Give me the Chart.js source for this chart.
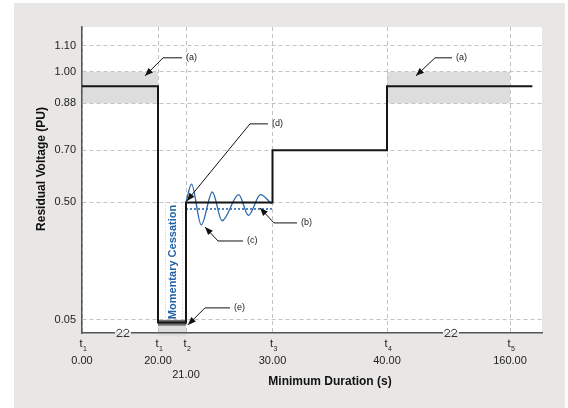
<!DOCTYPE html>
<html>
<head>
<meta charset="utf-8">
<script src="https://cdn.jsdelivr.net/npm/chart.js@4.4.1/dist/chart.umd.min.js"></script>
<style>
  html, body { margin: 0; padding: 0; background: #fff; }
  #wrap { width: 568px; height: 408px; }
</style>
</head>
<body>
<div id="wrap"><canvas id="myChart" width="568" height="408"></canvas></div>
<script>
// x ticks (minimum duration, s)
const tickTimes = [0, 20, 21, 30, 40, 160];
const tickNames = ['1', '1', '2', '3', '4', '5'];
const tickLabels = ['0.00', '20.00', '21.00', '30.00', '40.00', '160.00'];
// y ticks (residual voltage, PU)
const voltTicks = [0.05, 0.50, 0.70, 0.88, 1.00, 1.10];

// ride-through profile
const profileTimes = [0, 20, 20, 21, 21, 30, 30, 40, 40, 181];
const profileVolts = [0.945, 0.945, 0.04, 0.04, 0.50, 0.50, 0.70, 0.70, 0.945, 0.945];

// oscillation after recovery (peaks / troughs)
const oscTimes = [21.0, 21.57, 22.59, 23.74, 24.75, 26.48, 27.5, 28.75, 29.9];
const oscVolts = [0.50, 0.57, 0.414, 0.54, 0.43, 0.53, 0.45, 0.53, 0.495];

// dotted level
const refTimes = [21, 30];
const refVolts = [0.475, 0.475];

// shaded bands
const bandTimes = [[0, 20], [40, 160], [20, 21]];
const bandVolts = [[0.88, 1.00], [0.88, 1.00], [-0.012, 0.05]];

// broken time axis: every segment has its own stretch
const axisBreakTimes = [0, 20, 21, 30, 40, 160, 190];
const axisBreakUnits = [0, 76, 104, 190.5, 305, 428, 460];
const breakMarks = [10.8, 102.4];

function axisPos(t) {
    for (let i = 1; i < axisBreakTimes.length; i++) {
        if (t <= axisBreakTimes[i] || i === axisBreakTimes.length - 1) {
            const t0 = axisBreakTimes[i - 1], t1 = axisBreakTimes[i];
            const u0 = axisBreakUnits[i - 1], u1 = axisBreakUnits[i];
            return u0 + (t - t0) / (t1 - t0) * (u1 - u0);
        }
    }
}

function toPoints(ts, vs) {
    return ts.map((t, i) => ({ x: axisPos(t), y: vs[i] }));
}

// callouts: tip in data units, leader line in px
const notes = [
    { text: '(a)', t: 16.6, v: 0.985, dx: 18, dy: -18, len: 19 },
    { text: '(a)', t: 68.3, v: 0.985, dx: 19, dy: -18, len: 17 },
    { text: '(d)', t: 21.1, v: 0.506, dx: 63, dy: -77, len: 18 },
    { text: '(b)', t: 28.7, v: 0.479, dx: 14, dy: 15, len: 23 },
    { text: '(c)', t: 22.98, v: 0.406, dx: 13, dy: 14, len: 25 },
    { text: '(e)', t: 21.2, v: 0.031, dx: 17, dy: -17, len: 25 }
];

const FONT = '"Liberation Sans", Arial, sans-serif';
const PANEL = '#e8e7e5';

const decorPlugin = {
    id: 'decor',
    beforeDraw(chart) {
        const ctx = chart.ctx, a = chart.chartArea;
        const xs = chart.scales.x, ys = chart.scales.y;
        ctx.save();
        ctx.fillStyle = '#fff';
        ctx.fillRect(0, 0, chart.width, chart.height);
        ctx.fillStyle = PANEL;
        ctx.fillRect(14, 3, 551, 405);
        ctx.fillStyle = '#fff';
        ctx.fillRect(a.left, a.top, a.right - a.left, a.bottom - a.top);
        // bands
        ctx.fillStyle = '#dddddd';
        bandTimes.forEach((bt, i) => {
            const x0 = xs.getPixelForValue(axisPos(bt[0]));
            const x1 = xs.getPixelForValue(axisPos(bt[1]));
            const y0 = ys.getPixelForValue(bandVolts[i][1]);
            const y1 = ys.getPixelForValue(bandVolts[i][0]);
            ctx.fillRect(x0, y0, x1 - x0, y1 - y0);
        });
        ctx.restore();
    },
    beforeDatasetsDraw(chart) {
        const ctx = chart.ctx;
        const xs = chart.scales.x, ys = chart.scales.y;
        ctx.save();
        // bottom strip of the cessation box
        const x0 = xs.getPixelForValue(axisPos(20));
        const x1 = xs.getPixelForValue(axisPos(21));
        const yTop = ys.getPixelForValue(0.05), yBot = ys.getPixelForValue(0.028);
        ctx.fillStyle = '#6e6e6e';
        ctx.fillRect(x0, yTop, x1 - x0, yBot - yTop);
        // dotted inner lines
        ctx.strokeStyle = '#c8c8c8';
        ctx.lineWidth = 1;
        ctx.setLineDash([1, 2]);
        [20.25, 20.86].forEach(t => {
            const x = Math.round(xs.getPixelForValue(axisPos(t))) + 0.5;
            ctx.beginPath();
            ctx.moveTo(x, ys.getPixelForValue(0.5));
            ctx.lineTo(x, yTop);
            ctx.stroke();
        });
        ctx.restore();
    },
    afterDatasetsDraw(chart) {
        const ctx = chart.ctx, a = chart.chartArea;
        const xs = chart.scales.x, ys = chart.scales.y;
        ctx.save();

        // Momentary Cessation
        ctx.save();
        ctx.translate(xs.getPixelForValue(axisPos(20.52)), 262);
        ctx.rotate(-Math.PI / 2);
        ctx.fillStyle = '#2161a6';
        ctx.font = 'bold 11px ' + FONT;
        ctx.textAlign = 'center';
        ctx.textBaseline = 'middle';
        ctx.fillText('Momentary Cessation', 0, 0);
        ctx.restore();

        // callouts
        notes.forEach(n => {
            const x0 = xs.getPixelForValue(axisPos(n.t)), y0 = ys.getPixelForValue(n.v);
            const x1 = x0 + n.dx, y1 = y0 + n.dy, x2 = x1 + n.len;
            ctx.strokeStyle = '#111';
            ctx.lineWidth = 1;
            ctx.setLineDash([]);
            ctx.beginPath();
            ctx.moveTo(x0, y0);
            ctx.lineTo(x1, y1);
            ctx.lineTo(x2, y1);
            ctx.stroke();
            const ang = Math.atan2(y0 - y1, x0 - x1);
            ctx.fillStyle = '#111';
            ctx.beginPath();
            ctx.moveTo(x0, y0);
            ctx.lineTo(x0 - 8 * Math.cos(ang) + 3.2 * Math.sin(ang), y0 - 8 * Math.sin(ang) - 3.2 * Math.cos(ang));
            ctx.lineTo(x0 - 8 * Math.cos(ang) - 3.2 * Math.sin(ang), y0 - 8 * Math.sin(ang) + 3.2 * Math.cos(ang));
            ctx.closePath();
            ctx.fill();
            ctx.fillStyle = '#222';
            ctx.font = '9px ' + FONT;
            ctx.textAlign = 'left';
            ctx.textBaseline = 'middle';
            ctx.fillText(n.text, x2 + 4, y1);
        });

        // axis break marks
        breakMarks.forEach(t => {
            const cx = xs.getPixelForValue(axisPos(t)), cy = a.bottom;
            ctx.fillStyle = PANEL;
            ctx.fillRect(cx - 8, cy - 1, 16, 3);
            ctx.strokeStyle = '#333';
            ctx.lineWidth = 1;
            [-3.5, 3.5].forEach(off => {
                const x = cx + off;
                ctx.beginPath();
                ctx.moveTo(x - 2.8, cy - 1.5);
                ctx.bezierCurveTo(x - 2.8, cy - 4.5, x + 2.8, cy - 4.5, x + 2.2, cy - 1);
                ctx.lineTo(x - 2.8, cy + 3.5);
                ctx.lineTo(x + 2.8, cy + 3.5);
                ctx.stroke();
            });
        });

        // x tick labels
        ctx.fillStyle = '#222';
        ctx.textBaseline = 'middle';
        tickTimes.forEach((t, i) => {
            const x = xs.getPixelForValue(axisPos(t));
            ctx.font = '11px ' + FONT;
            ctx.textAlign = 'center';
            ctx.fillText('t', x - 1, 344);
            ctx.font = '7px ' + FONT;
            ctx.textAlign = 'left';
            ctx.fillText(tickNames[i], x + 1, 349);
            ctx.font = '11px ' + FONT;
            ctx.textAlign = 'center';
            ctx.fillText(tickLabels[i], x, t === 21 ? 375 : 361);
        });

        // y tick labels
        ctx.textAlign = 'right';
        ctx.font = '11px ' + FONT;
        voltTicks.forEach(v => {
            ctx.fillText(v.toFixed(2), 76, ys.getPixelForValue(v));
        });

        // axis titles
        ctx.font = 'bold 12px ' + FONT;
        ctx.fillStyle = '#111';
        ctx.textAlign = 'center';
        ctx.fillText('Minimum Duration (s)', 330, 382);
        ctx.save();
        ctx.translate(42, 169);
        ctx.rotate(-Math.PI / 2);
        ctx.fillText('Residual Voltage (PU)', 0, 0);
        ctx.restore();

        ctx.restore();
    }
};

const gridOpts = { color: '#c2c2c2', lineWidth: 1, drawTicks: false };

const ctx = document.getElementById('myChart').getContext('2d');
const myChart = new Chart(ctx, {
    type: 'line',
    data: {
        datasets: [
            {
                label: 'Profile',
                data: toPoints(profileTimes, profileVolts),
                borderColor: '#151515',
                borderWidth: 2,
                pointRadius: 0,
                tension: 0
            },
            {
                label: 'Oscillation',
                data: toPoints(oscTimes, oscVolts),
                borderColor: '#2a66aa',
                borderWidth: 1.3,
                pointRadius: 0,
                cubicInterpolationMode: 'monotone'
            },
            {
                label: 'Level',
                data: toPoints(refTimes, refVolts),
                borderColor: '#2a66aa',
                borderWidth: 1.6,
                borderDash: [2, 2],
                pointRadius: 0
            }
        ]
    },
    options: {
        responsive: false,
        animation: false,
        events: [],
        layout: { padding: { left: 82, right: 26, top: 27, bottom: 75 } },
        plugins: {
            legend: { display: false },
            tooltip: { enabled: false }
        },
        scales: {
            x: {
                type: 'linear',
                min: 0,
                max: 460,
                afterBuildTicks: axis => { axis.ticks = tickTimes.map(t => ({ value: axisPos(t) })); },
                ticks: { display: false },
                grid: gridOpts,
                border: { color: '#555', width: 1.5, dash: [4, 3] }
            },
            y: {
                type: 'linear',
                min: 0,
                max: 1.172,
                afterBuildTicks: axis => { axis.ticks = voltTicks.map(v => ({ value: v })); },
                ticks: { display: false },
                grid: gridOpts,
                border: { color: '#555', width: 1.5, dash: [4, 3] }
            }
        }
    },
    plugins: [decorPlugin]
});
</script>
</body>
</html>
